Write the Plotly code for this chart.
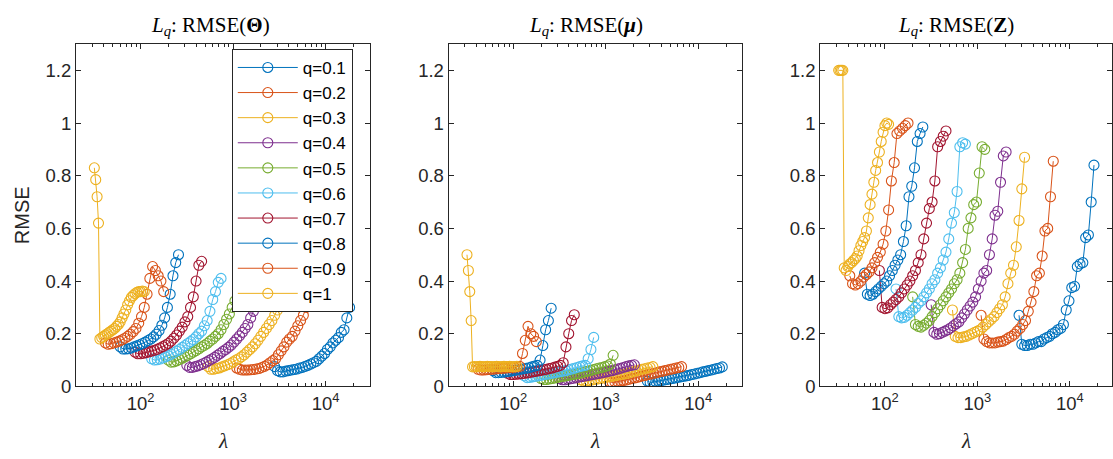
import plotly.graph_objects as go

# ---------------- data (lambda grid and RMSE per q) ----------------
Q_LABELS = ["q=0.1", "q=0.2", "q=0.3", "q=0.4", "q=0.5", "q=0.6", "q=0.7", "q=0.8", "q=0.9", "q=1"]

LAM_01 = [2818, 3020, 3236, 3467, 3715, 3981, 4266, 4571, 4898, 5248, 5623, 6026, 6457, 6918, 7413, 7943, 8511, 9120, 9772, 10470, 11220, 12020, 12880, 13800, 14790, 15850, 16980, 18200]
THETA_01 = [0.075, 0.06, 0.055, 0.055, 0.058, 0.06, 0.062, 0.064, 0.066, 0.07, 0.072, 0.076, 0.08, 0.085, 0.09, 0.095, 0.105, 0.115, 0.125, 0.14, 0.15, 0.165, 0.175, 0.185, 0.205, 0.215, 0.26, 0.30]
MU_01 = [0.02, 0.015, 0.016, 0.018, 0.02, 0.022, 0.024, 0.026, 0.028, 0.03, 0.032, 0.034, 0.036, 0.038, 0.04, 0.042, 0.045, 0.047, 0.05, 0.052, 0.055, 0.057, 0.06, 0.062, 0.065, 0.068, 0.07, 0.074]
Z_01 = [0.27, 0.16, 0.155, 0.155, 0.16, 0.16, 0.165, 0.17, 0.17, 0.18, 0.185, 0.19, 0.20, 0.205, 0.215, 0.22, 0.235, 0.29, 0.325, 0.375, 0.38, 0.455, 0.465, 0.47, 0.565, 0.575, 0.70, 0.84]

LAM_02 = [1096, 1175, 1259, 1349, 1445, 1549, 1660, 1778, 1905, 2042, 2188, 2344, 2512, 2692, 2884, 3090, 3311, 3548, 3802, 4074, 4365, 4677, 5012, 5370, 5754, 6166, 6607]
THETA_02 = [0.07, 0.065, 0.062, 0.062, 0.062, 0.063, 0.064, 0.066, 0.068, 0.072, 0.076, 0.082, 0.09, 0.098, 0.105, 0.12, 0.135, 0.15, 0.168, 0.18, 0.19, 0.21, 0.23, 0.25, 0.27, 0.30, 0.31]
MU_02 = [0.018, 0.015, 0.016, 0.018, 0.02, 0.022, 0.024, 0.027, 0.03, 0.032, 0.034, 0.037, 0.04, 0.042, 0.045, 0.047, 0.05, 0.052, 0.055, 0.057, 0.06, 0.062, 0.065, 0.067, 0.07, 0.072, 0.075]
Z_02 = [0.27, 0.18, 0.17, 0.165, 0.165, 0.165, 0.168, 0.17, 0.172, 0.178, 0.185, 0.19, 0.198, 0.21, 0.22, 0.235, 0.25, 0.285, 0.32, 0.36, 0.42, 0.43, 0.495, 0.59, 0.60, 0.72, 0.855]

LAM_03 = [537.0, 575.4, 616.6, 660.7, 707.9, 758.6, 812.8, 871.0, 933.3, 1000, 1072, 1148, 1230, 1318, 1413, 1514, 1622, 1738, 1862, 1995, 2138, 2291, 2455, 2630, 2818, 3020, 3236]
THETA_03 = [0.075, 0.065, 0.065, 0.068, 0.07, 0.074, 0.078, 0.082, 0.087, 0.093, 0.1, 0.105, 0.112, 0.12, 0.13, 0.14, 0.15, 0.162, 0.175, 0.19, 0.205, 0.22, 0.235, 0.25, 0.27, 0.29, 0.315]
MU_03 = [0.025, 0.02, 0.02, 0.022, 0.024, 0.026, 0.028, 0.03, 0.032, 0.034, 0.036, 0.038, 0.04, 0.042, 0.044, 0.046, 0.048, 0.05, 0.053, 0.056, 0.059, 0.062, 0.065, 0.067, 0.07, 0.072, 0.075]
Z_03 = [0.29, 0.19, 0.185, 0.185, 0.188, 0.19, 0.195, 0.2, 0.205, 0.21, 0.215, 0.225, 0.235, 0.245, 0.255, 0.265, 0.28, 0.295, 0.31, 0.34, 0.39, 0.43, 0.46, 0.53, 0.63, 0.75, 0.87]

LAM_04 = [316.2, 338.8, 363.1, 389.0, 416.9, 446.7, 478.6, 512.9, 549.5, 588.8, 631.0, 676.1, 724.4, 776.2, 831.8, 891.3, 955.0, 1023, 1096, 1175, 1259, 1349, 1445, 1549, 1660, 1778, 1905, 2042]
THETA_04 = [0.08, 0.072, 0.072, 0.075, 0.078, 0.082, 0.087, 0.092, 0.098, 0.104, 0.11, 0.118, 0.125, 0.133, 0.14, 0.148, 0.157, 0.168, 0.18, 0.192, 0.205, 0.22, 0.235, 0.26, 0.285, 0.31, 0.325, 0.322]
MU_04 = [0.03, 0.025, 0.025, 0.027, 0.029, 0.031, 0.033, 0.035, 0.037, 0.039, 0.041, 0.043, 0.045, 0.047, 0.049, 0.051, 0.053, 0.055, 0.058, 0.06, 0.063, 0.066, 0.069, 0.072, 0.075, 0.078, 0.08, 0.082]
Z_04 = [0.31, 0.205, 0.198, 0.2, 0.205, 0.21, 0.215, 0.222, 0.23, 0.238, 0.245, 0.26, 0.275, 0.29, 0.305, 0.32, 0.34, 0.37, 0.40, 0.43, 0.44, 0.50, 0.56, 0.65, 0.665, 0.775, 0.875, 0.89]

LAM_05 = [199.5, 213.8, 229.1, 245.5, 263.0, 281.8, 302.0, 323.6, 346.7, 371.5, 398.1, 426.6, 457.1, 489.8, 524.8, 562.3, 602.6, 645.7, 691.8, 741.3, 794.3, 851.1, 912.0, 977.2, 1047, 1122, 1202]
THETA_05 = [0.1, 0.092, 0.093, 0.097, 0.102, 0.107, 0.112, 0.118, 0.124, 0.13, 0.136, 0.143, 0.15, 0.156, 0.163, 0.172, 0.18, 0.19, 0.2, 0.215, 0.235, 0.255, 0.275, 0.30, 0.325, 0.345, 0.37]
MU_05 = [0.03, 0.026, 0.026, 0.028, 0.03, 0.032, 0.034, 0.036, 0.038, 0.04, 0.042, 0.044, 0.046, 0.048, 0.05, 0.053, 0.056, 0.058, 0.061, 0.064, 0.067, 0.07, 0.072, 0.075, 0.078, 0.085, 0.118]
Z_05 = [0.34, 0.235, 0.228, 0.225, 0.232, 0.24, 0.25, 0.265, 0.28, 0.295, 0.31, 0.325, 0.34, 0.355, 0.37, 0.39, 0.405, 0.43, 0.47, 0.52, 0.60, 0.64, 0.69, 0.70, 0.81, 0.91, 0.90]

LAM_06 = [131.8, 141.3, 151.4, 162.2, 173.8, 186.2, 199.5, 213.8, 229.1, 245.5, 263.0, 281.8, 302.0, 323.6, 346.7, 371.5, 398.1, 426.6, 457.1, 489.8, 524.8, 562.3, 602.6, 645.7, 691.8, 741.3]
THETA_06 = [0.105, 0.1, 0.101, 0.104, 0.108, 0.112, 0.117, 0.122, 0.128, 0.134, 0.14, 0.148, 0.155, 0.163, 0.17, 0.178, 0.188, 0.2, 0.21, 0.23, 0.25, 0.285, 0.33, 0.36, 0.395, 0.41]
MU_06 = [0.04, 0.033, 0.034, 0.036, 0.038, 0.04, 0.042, 0.044, 0.046, 0.048, 0.05, 0.052, 0.054, 0.056, 0.058, 0.06, 0.063, 0.066, 0.069, 0.072, 0.075, 0.078, 0.08, 0.105, 0.14, 0.186]
Z_06 = [0.37, 0.265, 0.26, 0.262, 0.27, 0.28, 0.29, 0.30, 0.315, 0.325, 0.34, 0.355, 0.37, 0.39, 0.405, 0.43, 0.45, 0.48, 0.51, 0.56, 0.62, 0.66, 0.74, 0.91, 0.925, 0.92]

LAM_07 = [87.10, 93.33, 100.0, 107.2, 114.8, 123.0, 131.8, 141.3, 151.4, 162.2, 173.8, 186.2, 199.5, 213.8, 229.1, 245.5, 263.0, 281.8, 302.0, 323.6, 346.7, 371.5, 398.1, 426.6, 457.1]
THETA_07 = [0.13, 0.124, 0.124, 0.126, 0.128, 0.131, 0.134, 0.137, 0.141, 0.146, 0.151, 0.157, 0.163, 0.172, 0.183, 0.195, 0.21, 0.225, 0.245, 0.265, 0.30, 0.34, 0.40, 0.46, 0.475]
MU_07 = [0.05, 0.045, 0.045, 0.046, 0.047, 0.048, 0.05, 0.051, 0.053, 0.055, 0.057, 0.059, 0.061, 0.063, 0.065, 0.068, 0.07, 0.073, 0.076, 0.08, 0.09, 0.15, 0.2, 0.25, 0.272]
Z_07 = [0.44, 0.30, 0.295, 0.298, 0.31, 0.32, 0.33, 0.34, 0.355, 0.37, 0.385, 0.40, 0.42, 0.44, 0.47, 0.50, 0.56, 0.62, 0.675, 0.70, 0.78, 0.91, 0.93, 0.95, 0.97]

LAM_08 = [60.26, 64.57, 69.18, 74.13, 79.43, 85.11, 91.20, 97.72, 104.7, 112.2, 120.2, 128.8, 138.0, 147.9, 158.5, 169.8, 182.0, 195.0, 208.9, 223.9, 239.9, 257.0]
THETA_08 = [0.15, 0.142, 0.142, 0.143, 0.146, 0.15, 0.154, 0.158, 0.163, 0.168, 0.174, 0.18, 0.188, 0.198, 0.212, 0.232, 0.26, 0.30, 0.35, 0.42, 0.47, 0.50]
MU_08 = [0.06, 0.052, 0.052, 0.053, 0.054, 0.056, 0.057, 0.059, 0.061, 0.063, 0.065, 0.067, 0.069, 0.071, 0.074, 0.077, 0.08, 0.1, 0.155, 0.215, 0.25, 0.297]
Z_08 = [0.43, 0.35, 0.345, 0.35, 0.36, 0.37, 0.38, 0.39, 0.40, 0.42, 0.44, 0.46, 0.48, 0.50, 0.55, 0.61, 0.72, 0.76, 0.83, 0.93, 0.96, 0.985]

LAM_09 = [41.69, 44.67, 47.86, 51.29, 54.95, 58.88, 63.10, 67.61, 72.44, 77.62, 83.18, 89.13, 95.50, 102.3, 109.6, 117.5, 125.9, 134.9, 144.5, 154.9, 166.0, 177.8]
THETA_09 = [0.165, 0.16, 0.162, 0.165, 0.168, 0.172, 0.177, 0.183, 0.19, 0.198, 0.208, 0.22, 0.24, 0.265, 0.30, 0.35, 0.41, 0.455, 0.44, 0.42, 0.40, 0.36]
MU_09 = [0.065, 0.062, 0.062, 0.063, 0.064, 0.065, 0.066, 0.067, 0.068, 0.069, 0.07, 0.071, 0.072, 0.073, 0.074, 0.076, 0.125, 0.175, 0.228, 0.2, 0.19, 0.17]
Z_09 = [0.42, 0.39, 0.385, 0.39, 0.40, 0.415, 0.425, 0.435, 0.45, 0.47, 0.49, 0.51, 0.54, 0.59, 0.67, 0.78, 0.85, 0.96, 0.97, 0.98, 0.99, 1.0]

LAM_10 = [31.62, 32.73, 33.88, 35.08, 36.31, 38.02, 39.81, 41.69, 43.65, 45.71, 47.86, 50.12, 52.48, 54.95, 57.54, 60.26, 63.10, 66.07, 69.18, 72.44, 75.86, 79.43, 83.18, 87.10, 91.20, 95.50, 100.0, 104.7, 109.6]
THETA_10 = [0.83, 0.785, 0.72, 0.62, 0.18, 0.185, 0.19, 0.195, 0.2, 0.205, 0.21, 0.215, 0.22, 0.228, 0.235, 0.245, 0.26, 0.275, 0.29, 0.31, 0.325, 0.338, 0.345, 0.352, 0.357, 0.36, 0.36, 0.362, 0.36]
MU_10 = [0.50, 0.44, 0.36, 0.25, 0.074, 0.075, 0.074, 0.075, 0.076, 0.075, 0.074, 0.075, 0.076, 0.075, 0.075, 0.074, 0.075, 0.076, 0.075, 0.074, 0.075, 0.076, 0.075, 0.075, 0.076, 0.075, 0.074, 0.075, 0.076]
Z_10 = [1.2, 1.2, 1.2, 1.2, 0.45, 0.44, 0.455, 0.465, 0.47, 0.478, 0.485, 0.495, 0.515, 0.535, 0.55, 0.565, 0.59, 0.64, 0.69, 0.73, 0.775, 0.82, 0.85, 0.89, 0.93, 0.965, 0.99, 1.0, 0.995]

X_TICK_VALS = [100, 1000, 10000]
X_TICK_TEXT = ["10<sup>2</sup>", "10<sup>3</sup>", "10<sup>4</sup>"]
X_MINOR_VALS = [20, 30, 40, 50, 60, 70, 80, 90, 200, 300, 400, 500, 600, 700, 800, 900,
                2000, 3000, 4000, 5000, 6000, 7000, 8000, 9000, 20000, 30000]
Y_TICK_VALS = [0, 0.2, 0.4, 0.6, 0.8, 1.0, 1.2]
Y_TICK_TEXT = ["0", "0.2", "0.4", "0.6", "0.8", "1", "1.2"]

# ---------------- assemble ----------------
LAMBDAS = [LAM_01, LAM_02, LAM_03, LAM_04, LAM_05, LAM_06, LAM_07, LAM_08, LAM_09, LAM_10]
THETAS = [THETA_01, THETA_02, THETA_03, THETA_04, THETA_05, THETA_06, THETA_07, THETA_08, THETA_09, THETA_10]
MUS = [MU_01, MU_02, MU_03, MU_04, MU_05, MU_06, MU_07, MU_08, MU_09, MU_10]
ZS = [Z_01, Z_02, Z_03, Z_04, Z_05, Z_06, Z_07, Z_08, Z_09, Z_10]
for i in range(10):
    n = len(LAMBDAS[i])
    assert len(THETAS[i]) == n and len(MUS[i]) == n and len(ZS[i]) == n, i

COLORS = ["#0072BD", "#D95319", "#EDB120", "#7E2F8E", "#77AC30",
          "#4DBEEE", "#A2142F", "#0072BD", "#D95319", "#EDB120"]
AX = "#262626"
W, H = 1113, 459
SANS = "Liberation Sans, Arial, Helvetica, sans-serif"
SERIF = "Liberation Serif, Times New Roman, serif"


def py(y):
    """pixel row (from top) -> paper fraction"""
    return (H - y) / H


fig = go.Figure()
for p, panel in enumerate([THETAS, MUS, ZS]):
    xa = "x" if p == 0 else f"x{p + 1}"
    ya = "y" if p == 0 else f"y{p + 1}"
    for i in range(10):
        fig.add_trace(go.Scatter(
            x=LAMBDAS[i], y=panel[i], mode="lines+markers", name=Q_LABELS[i],
            line=dict(color=COLORS[i], width=1),
            marker=dict(symbol="circle-open", size=10, color=COLORS[i],
                        line=dict(width=1.1, color=COLORS[i])),
            xaxis=xa, yaxis=ya, showlegend=(p == 0), legendgroup=Q_LABELS[i],
        ))

BOX_X = [(76, 370), (449, 743), (821, 1113)]
BOX_TOP, BOX_BOT = 45, 395
XR = [[1.301, 4.477], [1.301, 4.477], [1.301, 4.455]]
ydom = [py(BOX_BOT), py(BOX_TOP)]

layout = dict(
    width=W, height=H, margin=dict(l=0, r=0, t=0, b=0),
    paper_bgcolor="white", plot_bgcolor="white", showlegend=True,
    legend=dict(x=232 / W, y=py(50), xanchor="left", yanchor="top",
                bgcolor="white", bordercolor=AX, borderwidth=1,
                font=dict(family=SANS, size=17, color="black"),
                itemwidth=60, tracegroupgap=0),
)
for p in range(3):
    sx = "" if p == 0 else str(p + 1)
    x0, x1 = BOX_X[p]
    layout["xaxis" + sx] = dict(
        type="log", domain=[x0 / W, x1 / W], range=XR[p], anchor="y" + sx,
        showline=True, linecolor=AX, linewidth=1, mirror="ticks",
        ticks="inside", ticklen=5, tickwidth=1, tickcolor=AX,
        tickvals=X_TICK_VALS, ticktext=X_TICK_TEXT,
        tickfont=dict(family=SANS, size=18.5, color=AX),
        minor=dict(ticks="inside", ticklen=3, tickwidth=1, tickcolor=AX,
                   tickvals=X_MINOR_VALS, showgrid=False),
        showgrid=False, zeroline=False,
    )
    layout["yaxis" + sx] = dict(
        domain=ydom, range=[0, 1.3], anchor="x" + sx,
        showline=True, linecolor=AX, linewidth=1, mirror="ticks",
        ticks="inside", ticklen=5, tickwidth=1, tickcolor=AX,
        tickvals=Y_TICK_VALS, ticktext=Y_TICK_TEXT,
        tickfont=dict(family=SANS, size=18.5, color=AX),
        showgrid=False, zeroline=False,
    )

TITLES = ["<i>L</i><sub><i>q</i></sub>: RMSE(<b>Θ</b>)",
          "<i>L</i><sub><i>q</i></sub>: RMSE(<b><i>μ</i></b>)",
          "<i>L</i><sub><i>q</i></sub>: RMSE(<b>Z</b>)"]
TITLE_LEFT = [149, 527, 897]
ann = []
for p in range(3):
    ann.append(dict(text=TITLES[p], x=TITLE_LEFT[p] / W, y=py(27), xref="paper", yref="paper",
                    xanchor="left", yanchor="middle", showarrow=False,
                    font=dict(family=SERIF, size=21, color="black")))
    cx = (BOX_X[p][0] + BOX_X[p][1]) / 2
    ann.append(dict(text="<i>λ</i>", x=cx / W, y=py(451), xref="paper", yref="paper",
                    xanchor="center", yanchor="middle", showarrow=False,
                    font=dict(family=SERIF, size=21, color=AX)))
ann.append(dict(text="RMSE", x=22 / W, y=py(220), xref="paper", yref="paper",
                xanchor="center", yanchor="middle", showarrow=False, textangle=-90,
                font=dict(family=SANS, size=20, color=AX)))
layout["annotations"] = ann

fig.update_layout(**layout)
fig.write_html("out.html")
